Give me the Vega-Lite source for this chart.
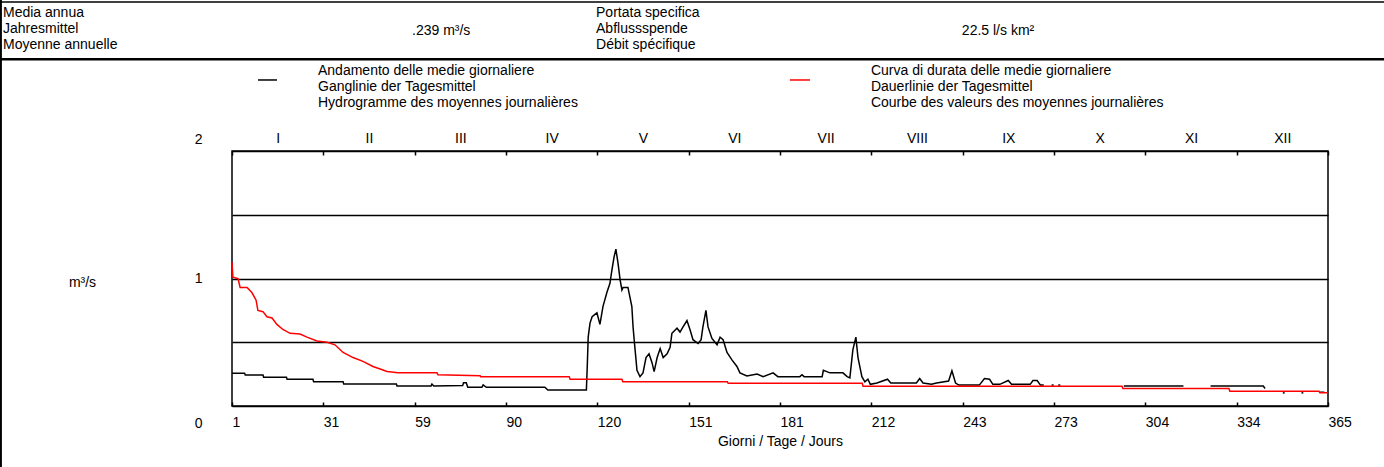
{
  "$schema": "https://vega.github.io/schema/vega-lite/v6.json",
  "width": 1096,
  "height": 255,
  "autosize": {"type": "none"},
  "padding": {"left": 232, "top": 151, "right": 56, "bottom": 61},
  "background": "white",
  "config": {
    "font": "Liberation Sans",
    "view": {"stroke": "#000", "strokeWidth": 1.5},
    "axis": {"labelFont": "Liberation Sans", "titleFont": "Liberation Sans", "labelFontSize": 14, "titleFontSize": 14, "labelColor": "#000", "titleColor": "#000", "titleFontWeight": "normal", "tickColor": "#000"},
    "text": {"font": "Liberation Sans", "fontSize": 14}
  },
  "datasets": {
    "hydro": [
      {"seg": 1, "day": 1, "q": 0.256}, {"seg": 1, "day": 5.2, "q": 0.256}, {"seg": 1, "day": 5.4, "q": 0.243}, {"seg": 1, "day": 11.3, "q": 0.243},
      {"seg": 1, "day": 11.5, "q": 0.225}, {"seg": 1, "day": 19.1, "q": 0.225}, {"seg": 1, "day": 19.3, "q": 0.209}, {"seg": 1, "day": 27.9, "q": 0.209},
      {"seg": 1, "day": 28.1, "q": 0.191}, {"seg": 1, "day": 37.9, "q": 0.191}, {"seg": 1, "day": 38.1, "q": 0.172}, {"seg": 1, "day": 55.6, "q": 0.172},
      {"seg": 1, "day": 55.8, "q": 0.157}, {"seg": 1, "day": 67.1, "q": 0.157}, {"seg": 1, "day": 67.4, "q": 0.172}, {"seg": 1, "day": 68.0, "q": 0.157},
      {"seg": 1, "day": 77.6, "q": 0.16}, {"seg": 1, "day": 77.9, "q": 0.183}, {"seg": 1, "day": 78.8, "q": 0.183}, {"seg": 1, "day": 79.3, "q": 0.147},
      {"seg": 1, "day": 84.0, "q": 0.147}, {"seg": 1, "day": 84.4, "q": 0.165}, {"seg": 1, "day": 85.5, "q": 0.147}, {"seg": 1, "day": 104.9, "q": 0.147},
      {"seg": 1, "day": 105.9, "q": 0.125}, {"seg": 1, "day": 118.7, "q": 0.125}, {"seg": 1, "day": 119.0, "q": 0.32}, {"seg": 1, "day": 119.3, "q": 0.54},
      {"seg": 1, "day": 119.9, "q": 0.65}, {"seg": 1, "day": 120.6, "q": 0.70}, {"seg": 1, "day": 122.2, "q": 0.73}, {"seg": 1, "day": 123.2, "q": 0.64},
      {"seg": 1, "day": 124.2, "q": 0.78}, {"seg": 1, "day": 125.5, "q": 0.89}, {"seg": 1, "day": 126.5, "q": 0.96}, {"seg": 1, "day": 127.2, "q": 1.07},
      {"seg": 1, "day": 127.9, "q": 1.17}, {"seg": 1, "day": 128.5, "q": 1.23}, {"seg": 1, "day": 129.2, "q": 1.12}, {"seg": 1, "day": 129.9, "q": 0.99},
      {"seg": 1, "day": 130.5, "q": 0.91}, {"seg": 1, "day": 130.9, "q": 0.93}, {"seg": 1, "day": 132.5, "q": 0.93}, {"seg": 1, "day": 133.8, "q": 0.78},
      {"seg": 1, "day": 134.2, "q": 0.62}, {"seg": 1, "day": 134.8, "q": 0.46}, {"seg": 1, "day": 135.5, "q": 0.28}, {"seg": 1, "day": 136.5, "q": 0.23},
      {"seg": 1, "day": 137.5, "q": 0.26}, {"seg": 1, "day": 138.5, "q": 0.38}, {"seg": 1, "day": 139.5, "q": 0.41}, {"seg": 1, "day": 140.5, "q": 0.34},
      {"seg": 1, "day": 141.2, "q": 0.27}, {"seg": 1, "day": 142.2, "q": 0.38}, {"seg": 1, "day": 143.2, "q": 0.45}, {"seg": 1, "day": 144.2, "q": 0.38},
      {"seg": 1, "day": 145.5, "q": 0.41}, {"seg": 1, "day": 146.5, "q": 0.46}, {"seg": 1, "day": 147.1, "q": 0.57}, {"seg": 1, "day": 148.8, "q": 0.61},
      {"seg": 1, "day": 149.8, "q": 0.58}, {"seg": 1, "day": 150.8, "q": 0.62}, {"seg": 1, "day": 152.1, "q": 0.67}, {"seg": 1, "day": 153.1, "q": 0.60},
      {"seg": 1, "day": 154.1, "q": 0.52}, {"seg": 1, "day": 155.8, "q": 0.49}, {"seg": 1, "day": 156.8, "q": 0.52}, {"seg": 1, "day": 157.4, "q": 0.62},
      {"seg": 1, "day": 158.4, "q": 0.75}, {"seg": 1, "day": 159.1, "q": 0.62}, {"seg": 1, "day": 160.4, "q": 0.53}, {"seg": 1, "day": 162.1, "q": 0.48},
      {"seg": 1, "day": 163.1, "q": 0.54}, {"seg": 1, "day": 164.1, "q": 0.52}, {"seg": 1, "day": 165.4, "q": 0.42}, {"seg": 1, "day": 167.1, "q": 0.36},
      {"seg": 1, "day": 168.7, "q": 0.31}, {"seg": 1, "day": 169.7, "q": 0.26}, {"seg": 1, "day": 172.0, "q": 0.235}, {"seg": 1, "day": 175.4, "q": 0.25},
      {"seg": 1, "day": 177.4, "q": 0.23}, {"seg": 1, "day": 180.7, "q": 0.26}, {"seg": 1, "day": 182.3, "q": 0.23}, {"seg": 1, "day": 189.6, "q": 0.23},
      {"seg": 1, "day": 190.3, "q": 0.245}, {"seg": 1, "day": 191.0, "q": 0.23}, {"seg": 1, "day": 197.0, "q": 0.23}, {"seg": 1, "day": 197.4, "q": 0.28},
      {"seg": 1, "day": 199.6, "q": 0.26}, {"seg": 1, "day": 203.9, "q": 0.26}, {"seg": 1, "day": 205.3, "q": 0.23}, {"seg": 1, "day": 206.2, "q": 0.22},
      {"seg": 1, "day": 207.2, "q": 0.44}, {"seg": 1, "day": 208.2, "q": 0.54}, {"seg": 1, "day": 208.9, "q": 0.38}, {"seg": 1, "day": 210.2, "q": 0.23},
      {"seg": 1, "day": 211.2, "q": 0.19}, {"seg": 1, "day": 212.2, "q": 0.21}, {"seg": 1, "day": 213.0, "q": 0.17}, {"seg": 1, "day": 215.2, "q": 0.18},
      {"seg": 1, "day": 218.7, "q": 0.21}, {"seg": 1, "day": 219.8, "q": 0.18}, {"seg": 1, "day": 228.3, "q": 0.18}, {"seg": 1, "day": 229.4, "q": 0.215},
      {"seg": 1, "day": 230.5, "q": 0.18}, {"seg": 1, "day": 233.3, "q": 0.17}, {"seg": 1, "day": 235.0, "q": 0.18}, {"seg": 1, "day": 239.0, "q": 0.196},
      {"seg": 1, "day": 240.1, "q": 0.276}, {"seg": 1, "day": 241.3, "q": 0.18}, {"seg": 1, "day": 242.4, "q": 0.164}, {"seg": 1, "day": 249.2, "q": 0.164},
      {"seg": 1, "day": 250.9, "q": 0.215}, {"seg": 1, "day": 252.6, "q": 0.21}, {"seg": 1, "day": 253.7, "q": 0.17}, {"seg": 1, "day": 256.0, "q": 0.17},
      {"seg": 1, "day": 258.8, "q": 0.2}, {"seg": 1, "day": 259.9, "q": 0.17}, {"seg": 1, "day": 266.1, "q": 0.17}, {"seg": 1, "day": 267.0, "q": 0.2},
      {"seg": 1, "day": 268.4, "q": 0.2}, {"seg": 1, "day": 269.5, "q": 0.164}, {"seg": 1, "day": 270.6, "q": 0.164},
      {"seg": 2, "day": 273.2, "q": 0.164}, {"seg": 2, "day": 273.9, "q": 0.164},
      {"seg": 3, "day": 275.4, "q": 0.164}, {"seg": 3, "day": 276.1, "q": 0.164},
      {"seg": 4, "day": 297.2, "q": 0.157}, {"seg": 4, "day": 317.0, "q": 0.157},
      {"seg": 5, "day": 326.0, "q": 0.157}, {"seg": 5, "day": 343.5, "q": 0.157}, {"seg": 5, "day": 344.1, "q": 0.137},
      {"seg": 6, "day": 350.0, "q": 0.103}, {"seg": 6, "day": 350.6, "q": 0.103},
      {"seg": 7, "day": 356.2, "q": 0.103}, {"seg": 7, "day": 356.8, "q": 0.103},
      {"seg": 8, "day": 362.1, "q": 0.108}, {"seg": 8, "day": 363.8, "q": 0.108}
    ],
    "duration": [
      {"day": 1, "q": 1.13}, {"day": 1.3, "q": 1.01}, {"day": 3.0, "q": 1.0}, {"day": 3.7, "q": 0.93}, {"day": 6.0, "q": 0.93},
      {"day": 7.6, "q": 0.89}, {"day": 9.0, "q": 0.83}, {"day": 9.6, "q": 0.75}, {"day": 11.3, "q": 0.74}, {"day": 12.6, "q": 0.70},
      {"day": 14.3, "q": 0.69}, {"day": 15.9, "q": 0.64}, {"day": 17.9, "q": 0.60}, {"day": 20.3, "q": 0.57}, {"day": 23.6, "q": 0.565},
      {"day": 25.9, "q": 0.54}, {"day": 29.2, "q": 0.51}, {"day": 32.6, "q": 0.50}, {"day": 35.2, "q": 0.48}, {"day": 37.9, "q": 0.42},
      {"day": 41.2, "q": 0.38}, {"day": 44.5, "q": 0.35}, {"day": 47.8, "q": 0.31}, {"day": 50.2, "q": 0.29}, {"day": 52.5, "q": 0.27},
      {"day": 56.1, "q": 0.26}, {"day": 69.1, "q": 0.26}, {"day": 69.4, "q": 0.245}, {"day": 83.4, "q": 0.238}, {"day": 83.6, "q": 0.23},
      {"day": 113.0, "q": 0.23}, {"day": 113.3, "q": 0.21}, {"day": 130.5, "q": 0.21}, {"day": 130.8, "q": 0.19}, {"day": 165.5, "q": 0.19},
      {"day": 165.8, "q": 0.178}, {"day": 210.3, "q": 0.178}, {"day": 210.6, "q": 0.155}, {"day": 296.6, "q": 0.155}, {"day": 296.9, "q": 0.137},
      {"day": 332.1, "q": 0.137}, {"day": 332.4, "q": 0.116}, {"day": 362.0, "q": 0.116}, {"day": 362.3, "q": 0.103}, {"day": 365, "q": 0.103}
    ]
  },
  "layer": [
    {
      "data": {"name": "hydro"},
      "mark": {"type": "line", "color": "#000", "strokeWidth": 1.5},
      "encoding": {
        "x": {"field": "day", "type": "quantitative", "scale": {"domain": [1, 365], "nice": false, "zero": false},
          "axis": {"orient": "bottom", "values": [1, 31.333, 61.667, 92, 122.333, 152.667, 183, 213.333, 243.667, 274, 304.333, 334.667, 365],
            "labelExpr": "['1','31','59','90','120','151','181','212','243','273','304','334','365'][round((datum.value - 1) / 30.3333)]",
            "labelAlign": "left", "labelBaseline": "top", "ticks": true, "tickSize": -4, "tickWidth": 1.5, "labelPadding": 13, "domain": false, "grid": false,
            "title": "Giorni / Tage / Jours", "titleBaseline": "middle", "titleY": 35}},
        "y": {"field": "q", "type": "quantitative", "scale": {"domain": [0, 2], "nice": false, "zero": true},
          "axis": {"orient": "left", "values": [0, 0.5, 1, 1.5, 2], "labelExpr": "datum.value == 0.5 || datum.value == 1.5 ? '' : format(datum.value, 'd')",
            "ticks": false, "tickSize": 0, "labelPadding": 30, "domain": false, "grid": true, "gridColor": "#000", "gridWidth": 1.5, "gridOpacity": 1,
            "labelOffset": {"condition": [{"test": "datum.value == 2", "value": -12}, {"test": "datum.value == 0", "value": 17}], "value": 0},
            "title": "m³/s", "titleAngle": 0, "titleAlign": "center", "titleBaseline": "middle", "titleX": -150, "titleY": 131}},
        "detail": {"field": "seg"}
      }
    },
    {
      "data": {"name": "duration"},
      "mark": {"type": "line", "color": "#ff0000", "strokeWidth": 1.5},
      "encoding": {
        "x": {"field": "day", "type": "quantitative", "scale": {"domain": [1, 365], "nice": false, "zero": false},
          "axis": {"orient": "top", "values": [1, 31.333, 61.667, 92, 122.333, 152.667, 183, 213.333, 243.667, 274, 304.333, 334.667, 365],
            "labelExpr": "['I','II','III','IV','V','VI','VII','VIII','IX','X','XI','XII',''][round((datum.value - 1) / 30.3333)]",
            "labelAlign": "center", "labelOffset": 45.67, "ticks": true, "tickSize": -4, "tickWidth": 1.5, "labelPadding": 10, "domain": false, "grid": false, "title": null}},
        "y": {"field": "q", "type": "quantitative", "scale": {"domain": [0, 2], "nice": false, "zero": true}, "axis": null}
      }
    },
    {
      "data": {"values": [{"text": "Media annua\nJahresmittel\nMoyenne annuelle"}]},
      "mark": {"type": "text", "align": "left", "baseline": "middle", "lineBreak": "\n", "lineHeight": 16, "fill": "#000"},
      "encoding": {"x": {"datum": -75.05, "type": "quantitative", "axis": null}, "y": {"datum": 3.08, "type": "quantitative", "axis": null}, "text": {"field": "text"}}
    },
    {
      "data": {"values": [{"text": ".239 m³/s"}]},
      "mark": {"type": "text", "align": "left", "baseline": "middle", "fill": "#000"},
      "encoding": {"x": {"datum": 60.78, "type": "quantitative", "axis": null}, "y": {"datum": 2.941, "type": "quantitative", "axis": null}, "text": {"field": "text"}}
    },
    {
      "data": {"values": [{"text": "Portata specifica\nAbflussspende\nDébit spécifique"}]},
      "mark": {"type": "text", "align": "left", "baseline": "middle", "lineBreak": "\n", "lineHeight": 16, "fill": "#000"},
      "encoding": {"x": {"datum": 121.9, "type": "quantitative", "axis": null}, "y": {"datum": 3.08, "type": "quantitative", "axis": null}, "text": {"field": "text"}}
    },
    {
      "data": {"values": [{"text": "22.5 l/s km²"}]},
      "mark": {"type": "text", "align": "left", "baseline": "middle", "fill": "#000"},
      "encoding": {"x": {"datum": 243.4, "type": "quantitative", "axis": null}, "y": {"datum": 2.941, "type": "quantitative", "axis": null}, "text": {"field": "text"}}
    },
    {
      "data": {"values": [{"series": "Andamento delle medie giornaliere"}]},
      "mark": {"type": "rule", "stroke": "#000", "strokeWidth": 1.5},
      "encoding": {"x": {"datum": 9.63, "type": "quantitative", "axis": null}, "x2": {"datum": 15.94}, "y": {"datum": 2.557, "type": "quantitative", "axis": null}}
    },
    {
      "data": {"values": [{"text": "Andamento delle medie giornaliere\nGanglinie der Tagesmittel\nHydrogramme des moyennes journalières"}]},
      "mark": {"type": "text", "align": "left", "baseline": "middle", "lineBreak": "\n", "lineHeight": 16, "fill": "#000"},
      "encoding": {"x": {"datum": 29.56, "type": "quantitative", "axis": null}, "y": {"datum": 2.628, "type": "quantitative", "axis": null}, "text": {"field": "text"}}
    },
    {
      "data": {"values": [{"series": "Curva di durata delle medie giornaliere"}]},
      "mark": {"type": "rule", "stroke": "#ff0000", "strokeWidth": 1.5},
      "encoding": {"x": {"datum": 186.3, "type": "quantitative", "axis": null}, "x2": {"datum": 192.96}, "y": {"datum": 2.557, "type": "quantitative", "axis": null}}
    },
    {
      "data": {"values": [{"text": "Curva di durata delle medie giornaliere\nDauerlinie der Tagesmittel\nCourbe des valeurs des moyennes journalières"}]},
      "mark": {"type": "text", "align": "left", "baseline": "middle", "lineBreak": "\n", "lineHeight": 16, "fill": "#000"},
      "encoding": {"x": {"datum": 213.2, "type": "quantitative", "axis": null}, "y": {"datum": 2.628, "type": "quantitative", "axis": null}, "text": {"field": "text"}}
    },
    {
      "data": {"values": [{}]},
      "mark": {"type": "rule", "color": "#000", "strokeWidth": 2.5},
      "encoding": {"x": {"datum": -76.05, "type": "quantitative", "axis": null}, "x2": {"datum": 383.6}, "y": {"datum": 2.72, "type": "quantitative", "axis": null}}
    },
    {
      "data": {"values": [{}]},
      "mark": {"type": "rule", "color": "#000", "strokeWidth": 1.5},
      "encoding": {"x": {"datum": -76.05, "type": "quantitative", "axis": null}, "x2": {"datum": 383.6}, "y": {"datum": 3.169, "type": "quantitative", "axis": null}}
    },
    {
      "data": {"values": [{}]},
      "mark": {"type": "rule", "color": "#000", "strokeWidth": 2},
      "encoding": {"x": {"datum": -75.75, "type": "quantitative", "axis": null}, "y": {"datum": 3.19, "type": "quantitative", "axis": null}, "y2": {"datum": -0.48}}
    }
  ],
  "resolve": {"axis": {"x": "independent", "y": "independent"}}
}
